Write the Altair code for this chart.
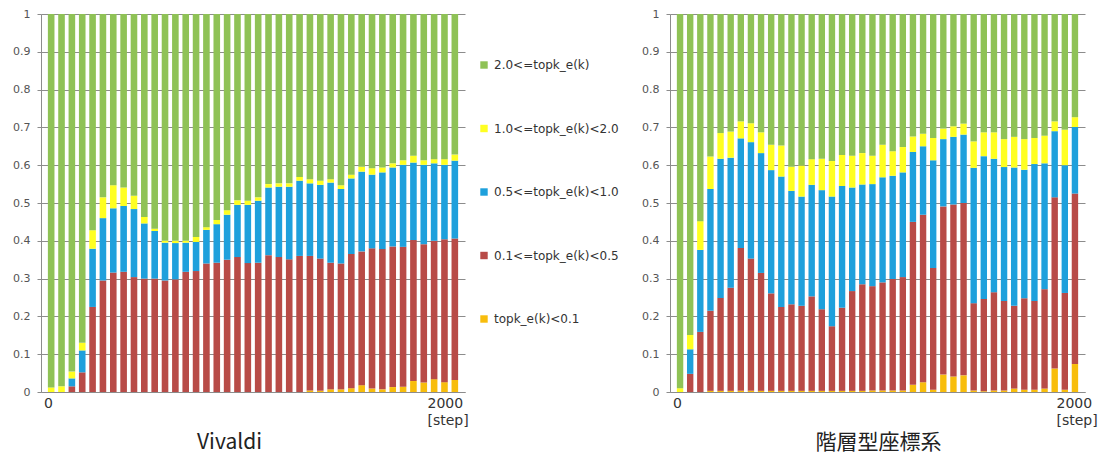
import altair as alt
import pandas as pd

# Bar centres: 40 bins of 50 steps each over 0..2000
steps = [25 + 50 * i for i in range(40)]

classes = [
    "2.0<=topk_e(k)",
    "1.0<=topk_e(k)<2.0",
    "0.5<=topk_e(k)<1.0",
    "0.1<=topk_e(k)<0.5",
    "topk_e(k)<0.1",
]
colors = ["#8fc256", "#ffff22", "#1ea0dc", "#b84b47", "#f8bd0c"]

# Cumulative upper boundary of each class (bottom to top), per bin
viv_lt01 = [0, 0, 0, 0, 0, 0, 0, 0, 0, 0, 0, 0, 0, 0, 0, 0, 0, 0, 0, 0,
            0, 0, 0, 0, 0, 0.004, 0.003, 0.007, 0.007, 0.010, 0.018, 0.009, 0.007, 0.013, 0.014, 0.029,
            0.025, 0.034, 0.026, 0.032]
viv_lt05 = [0, 0, 0.015, 0.052, 0.225, 0.295, 0.316, 0.318, 0.304, 0.300, 0.300, 0.295, 0.298, 0.318,
            0.320, 0.340, 0.342, 0.350, 0.357, 0.341, 0.342, 0.362, 0.357, 0.351, 0.360, 0.360, 0.353,
            0.342, 0.340, 0.365, 0.372, 0.380, 0.378, 0.385, 0.384, 0.402, 0.391, 0.400, 0.404, 0.406]
viv_lt10 = [0, 0, 0.036, 0.110, 0.379, 0.460, 0.486, 0.492, 0.484, 0.446, 0.426, 0.395, 0.394, 0.395,
            0.397, 0.429, 0.444, 0.469, 0.495, 0.495, 0.506, 0.541, 0.543, 0.543, 0.559, 0.552, 0.548,
            0.554, 0.537, 0.565, 0.583, 0.575, 0.581, 0.594, 0.601, 0.607, 0.601, 0.605, 0.601, 0.612]
viv_lt20 = [0.012, 0.015, 0.054, 0.130, 0.428, 0.515, 0.547, 0.541, 0.519, 0.463, 0.432, 0.400, 0.400,
            0.400, 0.410, 0.436, 0.455, 0.481, 0.507, 0.506, 0.515, 0.550, 0.552, 0.552, 0.569, 0.563,
            0.559, 0.563, 0.547, 0.575, 0.596, 0.592, 0.594, 0.605, 0.613, 0.625, 0.613, 0.616, 0.616,
            0.628]

hier_lt01 = [0, 0, 0, 0.003, 0.003, 0.003, 0.003, 0.003, 0.003, 0.003, 0.003, 0.003, 0.003, 0.003,
             0.003, 0.003, 0.003, 0.003, 0.003, 0.004, 0.004, 0.004, 0.004, 0.019, 0.026, 0.006, 0.046,
             0.041, 0.044, 0.004, 0.002, 0.004, 0.004, 0.009, 0.006, 0.006, 0.009, 0.062, 0.006, 0.074]
hier_lt05 = [0, 0.048, 0.159, 0.215, 0.249, 0.276, 0.381, 0.353, 0.315, 0.261, 0.225, 0.232, 0.228,
             0.253, 0.219, 0.174, 0.223, 0.267, 0.285, 0.280, 0.290, 0.299, 0.304, 0.450, 0.469, 0.328,
             0.491, 0.496, 0.500, 0.235, 0.246, 0.264, 0.241, 0.228, 0.248, 0.241, 0.272, 0.515, 0.262,
             0.525]
hier_lt10 = [0, 0.113, 0.376, 0.537, 0.617, 0.620, 0.671, 0.661, 0.632, 0.587, 0.570, 0.532, 0.517,
             0.548, 0.534, 0.517, 0.545, 0.541, 0.549, 0.550, 0.568, 0.572, 0.581, 0.635, 0.650, 0.613,
             0.669, 0.675, 0.681, 0.593, 0.624, 0.617, 0.595, 0.594, 0.588, 0.603, 0.605, 0.690, 0.600,
             0.701]
hier_lt20 = [0.010, 0.151, 0.452, 0.623, 0.685, 0.689, 0.716, 0.711, 0.687, 0.654, 0.652, 0.596, 0.599,
             0.616, 0.617, 0.611, 0.627, 0.625, 0.632, 0.625, 0.654, 0.637, 0.648, 0.676, 0.683, 0.672,
             0.697, 0.703, 0.710, 0.663, 0.687, 0.687, 0.669, 0.675, 0.669, 0.672, 0.678, 0.716, 0.694,
             0.727]

FONT = "DejaVu Sans"
GRID = "#8c8c8c"


def long_table(lt01, lt05, lt10, lt20):
    rows = []
    order_bottom_up = classes[::-1]
    for i, s in enumerate(steps):
        bounds = [0, lt01[i], lt05[i], lt10[i], lt20[i], 1.0]
        for k, c in enumerate(order_bottom_up):
            rows.append({"step": s, "cls": c, "lo": bounds[k], "hi": bounds[k + 1]})
    return pd.DataFrame(rows)


legend = alt.Legend(
    title=None,
    orient="none",
    legendX=437,
    legendY=45,
    symbolType="square",
    symbolSize=55,
    symbolStrokeWidth=0,
    labelFont=FONT,
    labelFontSize=12,
    labelColor="#333333",
    rowPadding=51.5,
    labelOffset=4,
)


def panel(df, title, width, bar_w, title_x, end_shift):
    return (
        alt.Chart(df)
        .mark_bar(width=bar_w)
        .encode(
            x=alt.X(
                "step:Q",
                scale=alt.Scale(domain=[0, 2000], nice=False, zero=False),
                axis=alt.Axis(
                    values=[0, 2000],
                    labelExpr="datum.value == 0 ? '0' : ['2000', '[step]']",
                    labelAlign=alt.expr("datum.value == 0 ? 'center' : 'left'"),
                    labelOffset=alt.expr(f"datum.value == 0 ? 2 : {end_shift}"),
                    labelFlush=False,
                    labelOverlap=False,
                    labelBound=False,
                    labelFont=FONT,
                    labelFontSize=14,
                    labelLineHeight=17,
                    labelColor="#333333",
                    labelPadding=4,
                    ticks=False,
                    grid=False,
                    domainColor=GRID,
                    title=title,
                    titleFont="Noto Sans CJK JP",
                    titleFontSize=21,
                    titleFontWeight="normal",
                    titleColor="#222222",
                    titlePadding=4,
                    titleX=title_x,
                ),
            ),
            y=alt.Y(
                "lo:Q",
                scale=alt.Scale(domain=[0, 1], nice=False),
                axis=alt.Axis(
                    values=[i / 10 for i in range(11)],
                    format=".1~f",
                    labelFont=FONT,
                    labelFontSize=11,
                    labelColor="#555555",
                    labelPadding=7,
                    tickSize=4,
                    tickColor=GRID,
                    domainColor=GRID,
                    gridColor=GRID,
                    gridWidth=1,
                    title=None,
                ),
            ),
            y2="hi:Q",
            color=alt.Color(
                "cls:N",
                scale=alt.Scale(domain=classes, range=colors),
                sort=classes,
                legend=legend,
            ),
        )
        .properties(width=width, height=378)
    )


left = panel(long_table(viv_lt01, viv_lt05, viv_lt10, viv_lt20), "Vivaldi", 424, 6.6, 188, -33)
right = panel(long_table(hier_lt01, hier_lt05, hier_lt10, hier_lt20), "階層型座標系", 415, 6.4, 208, -24)

chart = (
    alt.hconcat(left, right, spacing=172)
    .properties(padding={"left": 12, "top": 8, "right": 5, "bottom": 5}, background="white")
    .configure_view(stroke=None)
)

chart.save("out.html", embed_options={"renderer": "svg", "actions": False})
